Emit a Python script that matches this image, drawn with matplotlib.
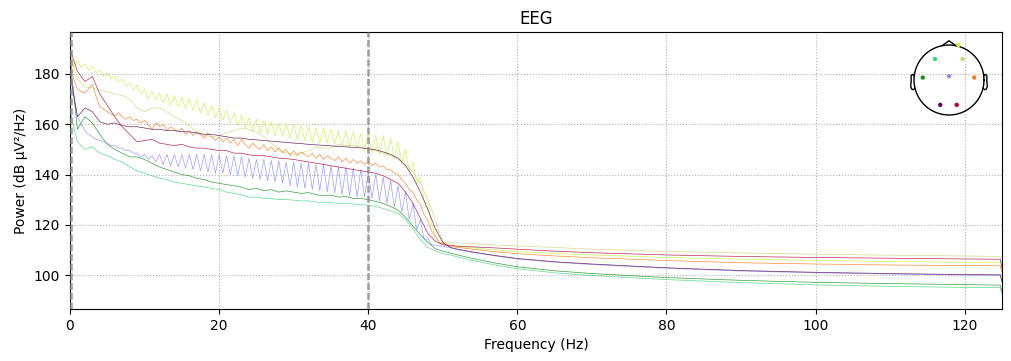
import numpy as np
import matplotlib
matplotlib.use('Agg')
import matplotlib.pyplot as plt

## DATA
# frequency grids (Hz)
freqsFine = np.arange(0, 50.01, 0.5)
freqsCoarse = np.arange(0, 51, 1)
freqsTail = [51, 52, 54, 57, 60, 65, 70, 80, 90, 100, 110, 120, 124.75, 125]

# power (dB uV^2/Hz), fine grid (0.5 Hz)
limeLow = [189.0, 183.0, 185.5, 182.5, 184.0, 181.5, 183.0, 180.5, 181.5, 179.0,
           180.5, 178.0, 179.0, 176.5, 178.0, 175.0, 176.5, 173.5, 175.5, 172.0,
           174.0, 170.0, 173.0, 169.5, 172.5, 168.5, 172.0, 167.5, 171.5, 167.0,
           171.0, 166.0, 170.0, 165.5, 169.5, 164.5, 168.5, 163.5, 167.5, 162.5,
           166.5, 161.5, 165.5, 160.5, 164.5, 159.5, 163.5, 158.5, 162.5, 157.0,
           162.0, 156.5, 161.5, 156.0, 161.0, 155.5, 160.5, 155.0, 160.5, 154.5,
           160.0, 154.0, 159.5, 153.5, 159.0, 153.0, 158.5, 152.5, 158.5, 152.5,
           158.0, 152.0, 157.5, 151.5, 157.5, 151.0, 157.0, 150.5, 156.5, 149.5,
           156.0, 148.5, 155.5, 148.0, 155.5, 147.5, 154.5, 146.5, 153.0, 144.5,
           150.0, 141.5, 145.0, 136.5, 139.0, 129.5, 128.0, 120.0, 116.0, 113.0,
           112.5]
blueLow = [182.0, 172.0, 163.0, 160.0, 157.5, 156.0, 155.0, 154.0, 153.5, 153.0,
           152.5, 151.5, 151.5, 150.5, 150.5, 149.5, 149.5, 148.5, 148.5, 147.0,
           148.0, 146.0, 147.5, 145.0, 148.0, 144.0, 148.0, 143.5, 148.0, 143.0,
           148.0, 142.5, 148.0, 142.0, 148.0, 141.5, 148.0, 141.0, 148.0, 140.5,
           148.0, 140.5, 147.5, 140.0, 147.5, 139.5, 147.0, 139.0, 146.5, 138.5,
           146.0, 138.0, 146.0, 137.5, 145.5, 137.0, 145.5, 136.5, 145.0, 135.5,
           145.0, 135.0, 144.5, 134.5, 144.5, 134.0, 144.0, 133.5, 144.0, 133.0,
           143.5, 132.5, 143.0, 132.0, 143.0, 131.5, 142.5, 131.0, 142.0, 131.0,
           141.0, 130.5, 140.0, 129.5, 139.0, 128.5, 137.5, 127.0, 135.5, 125.0,
           133.0, 122.0, 128.5, 118.0, 122.0, 114.0, 114.5, 112.0, 112.0, 111.5,
           111.5]
orangeLow = [186.0, 178.0, 174.0, 173.0, 172.5, 174.0, 176.0, 171.0, 167.0, 166.0,
             165.0, 164.0, 163.5, 164.5, 163.0, 162.0, 163.0, 161.5, 162.0, 160.5,
             161.5, 160.0, 158.0, 160.5, 159.0, 160.0, 157.5, 159.0, 158.0, 157.0,
             158.5, 156.0, 157.5, 155.5, 157.0, 156.0, 154.5, 156.5, 155.0, 153.5,
             155.0, 153.0, 154.5, 152.5, 154.0, 151.5, 154.0, 152.0, 150.5, 152.5,
             151.0, 150.0, 152.0, 149.5, 151.0, 149.0, 150.5, 148.5, 150.0, 147.5,
             149.5, 147.5, 149.0, 148.0, 147.0, 148.5, 146.5, 148.0, 146.0, 147.5,
             146.5, 145.5, 147.0, 145.0, 146.5, 144.5, 146.0, 144.5, 145.5, 144.0,
             145.0, 143.5, 144.5, 143.0, 143.5, 142.0, 142.0, 140.5, 140.0, 138.0,
             136.5, 134.0, 133.0, 130.0, 128.0, 124.0, 121.5, 117.5, 115.5, 113.0,
             112.5]

# coarse grid (1 Hz)
paleLow = [187.0, 178.0, 175.0, 174.5, 173.5, 173.0, 172.0, 171.5, 170.0, 166.5,
           165.0, 166.5, 166.5, 165.0, 163.0, 161.5, 159.5, 157.0, 155.5, 155.0,
           155.5, 156.5, 157.5, 158.5, 158.0, 157.0, 155.0, 152.5, 150.0, 148.5,
           148.0, 148.5, 149.5, 151.0, 150.5, 150.5, 152.0, 151.5, 151.5, 151.0,
           150.0, 149.5, 148.5, 147.5, 146.0, 144.0, 141.0, 136.5, 130.0, 122.0,
           113.0]
purpleLow = [180.0, 163.0, 166.5, 165.0, 161.0, 160.0, 160.5, 159.5, 159.0, 159.0,
             158.5, 158.0, 158.0, 157.5, 157.5, 157.0, 157.0, 156.5, 156.0, 156.0,
             155.5, 155.0, 154.5, 154.5, 154.0, 153.8, 153.5, 153.3, 153.0, 152.8,
             152.5, 152.3, 152.0, 151.8, 151.6, 151.4, 151.2, 151.0, 150.8, 150.6,
             150.3, 149.8, 149.0, 148.0, 146.5, 143.5, 139.0, 133.0, 126.0, 118.5,
             113.0]
crimsonLow = [190.0, 181.0, 177.0, 179.0, 172.0, 167.5, 163.0, 159.0, 156.0, 153.0,
              153.5, 154.0, 152.5, 152.0, 151.5, 152.0, 151.0, 150.5, 150.5, 150.0,
              149.5, 149.5, 148.5, 148.5, 147.8, 147.5, 147.5, 147.0, 146.5, 146.3,
              146.0, 145.5, 145.0, 144.5, 144.0, 143.5, 143.0, 142.5, 142.0, 141.5,
              141.0, 140.5, 139.5, 138.0, 136.5, 133.0, 128.5, 122.5, 116.5, 113.5,
              112.0]
darkGreenLow = [186.0, 158.0, 163.0, 160.5, 156.0, 152.0, 150.0, 148.5, 147.0, 147.0,
                146.0, 144.5, 143.0, 142.0, 141.0, 140.0, 139.5, 138.5, 138.0, 137.0,
                136.5, 136.0, 135.5, 135.0, 134.0, 134.5, 133.5, 134.0, 133.0, 133.5,
                133.0, 132.5, 132.8, 132.0, 131.5, 131.8, 131.0, 131.3, 130.5, 130.5,
                130.0, 129.3, 128.5, 127.3, 125.8, 123.0, 119.5, 116.0, 113.0, 110.5,
                109.5]
lightGreenLow = [165.0, 153.0, 150.0, 151.0, 148.5, 147.5, 146.0, 145.0, 143.0, 141.5,
                 140.5, 139.5, 138.5, 138.0, 137.0, 136.5, 136.0, 135.5, 135.0, 134.5,
                 134.0, 133.0, 132.5, 132.0, 131.0, 131.0, 130.5, 130.5, 130.0, 130.0,
                 129.8, 129.5, 129.5, 129.0, 129.0, 128.8, 128.5, 128.5, 128.3, 128.0,
                 127.8, 127.3, 126.5, 125.5, 124.5, 122.0, 118.5, 114.0, 111.0, 109.5,
                 108.5]

# 51 .. 125 Hz
limeTail = [111.8, 111.3, 110.8, 110.0, 109.3, 108.6, 108.0, 107.0, 106.3, 105.8, 105.4, 105.1, 105.0, 101.5]
blueTail = [110.8, 110.0, 109.0, 107.6, 106.4, 105.1, 104.2, 102.7, 101.6, 100.9, 100.4, 100.0, 99.9, 97.0]
orangeTail = [111.5, 111.0, 110.3, 109.3, 108.5, 107.6, 106.9, 105.8, 104.9, 104.4, 104.0, 103.8, 103.7, 101.0]
paleTail = [113.0, 112.8, 112.5, 112.0, 111.6, 111.0, 110.3, 109.4, 108.8, 108.3, 107.9, 107.6, 107.4, 103.0]
purpleTail = [111.0, 110.3, 109.2, 107.8, 106.6, 105.3, 104.4, 102.9, 101.8, 101.1, 100.6, 100.2, 100.1, 97.5]
crimsonTail = [111.8, 111.5, 111.2, 110.8, 110.3, 109.5, 108.9, 108.0, 107.4, 107.0, 106.7, 106.4, 106.3, 103.0]
darkGreenTail = [108.8, 108.0, 106.6, 104.8, 103.3, 101.7, 100.6, 99.0, 97.9, 97.1, 96.6, 96.2, 96.0, 93.5]
lightGreenTail = [108.0, 107.2, 105.8, 104.0, 102.5, 100.9, 99.8, 98.2, 97.0, 96.1, 95.5, 95.1, 95.0, 92.5]

# sensor colours and head positions (unit head radius)
channelColors = ['#c5f53a', '#c8d878', '#3ed67a', '#1a8c22', '#8a8cff', '#ff7a1a', '#5c0a48', '#ad0a3a']
sensorX = [0.27, 0.39, -0.40, -0.75, 0.0, 0.72, -0.25, 0.22]
sensorY = [1.00, 0.60, 0.60, 0.07, 0.11, 0.07, -0.71, -0.71]

filterFreqs = [0.1, 40]

## PLOT
def channelTrace(lowFreqs, lowVals, tailVals):
    return np.concatenate([lowFreqs, freqsTail]), np.concatenate([lowVals, tailVals])

traces = [
    channelTrace(freqsFine, limeLow, limeTail),
    channelTrace(freqsCoarse, paleLow, paleTail),
    channelTrace(freqsCoarse, lightGreenLow, lightGreenTail),
    channelTrace(freqsCoarse, darkGreenLow, darkGreenTail),
    channelTrace(freqsFine, blueLow, blueTail),
    channelTrace(freqsFine, orangeLow, orangeTail),
    channelTrace(freqsCoarse, purpleLow, purpleTail),
    channelTrace(freqsCoarse, crimsonLow, crimsonTail),
]

fig = plt.figure(figsize=(10.11, 3.61), dpi=100)
ax = fig.add_axes([70 / 1011, 1 - 309 / 361, 932 / 1011, 277 / 361])

for (f, p), c in zip(traces, channelColors):
    ax.plot(f, p, color=c, lw=0.5, alpha=0.85)

for fr in filterFreqs:
    ax.axvline(fr, color='0.55', lw=2, ls=(0, (2.5, 1)), alpha=0.75, zorder=5)

ax.set_xlim(0, 125)
ax.set_ylim(86.5, 196.7)
ax.set_xticks([0, 20, 40, 60, 80, 100, 120])
ax.set_yticks([100, 120, 140, 160, 180])
ax.grid(True, ls=':', color='#b0b0b0', lw=0.8)
ax.set_xlabel('Frequency (Hz)')
ax.set_ylabel('Power (dB µV²/Hz)')
ax.set_title('EEG')

# sensor layout inset
inset = fig.add_axes([903.5 / 1011, 1 - 125.5 / 361, 91 / 1011, 91 / 361])
inset.patch.set_alpha(0)
inset.set_aspect('equal')
inset.axis('off')
inset.set_xlim(-1.3, 1.3)
inset.set_ylim(-1.3, 1.3)
t = np.linspace(0, 2 * np.pi, 200)
inset.plot(np.cos(t), np.sin(t), color='k', lw=1)
inset.plot([-0.2, 0, 0.2], [0.98, 1.12, 0.98], color='k', lw=1)
earX = np.array([0.994, 1.02, 1.036, 1.06, 1.084, 1.08, 1.094, 1.064, 1.02, 0.978])
earY = np.array([0.111, 0.155, 0.157, 0.149, 0.111, -0.011, -0.186, -0.263, -0.277, -0.24])
inset.plot(earX, earY, color='k', lw=1)
inset.plot(-earX, earY, color='k', lw=1)
inset.scatter(sensorX, sensorY, s=10, c=channelColors, edgecolors='none', zorder=3)

fig.savefig('out.png', dpi=100)
